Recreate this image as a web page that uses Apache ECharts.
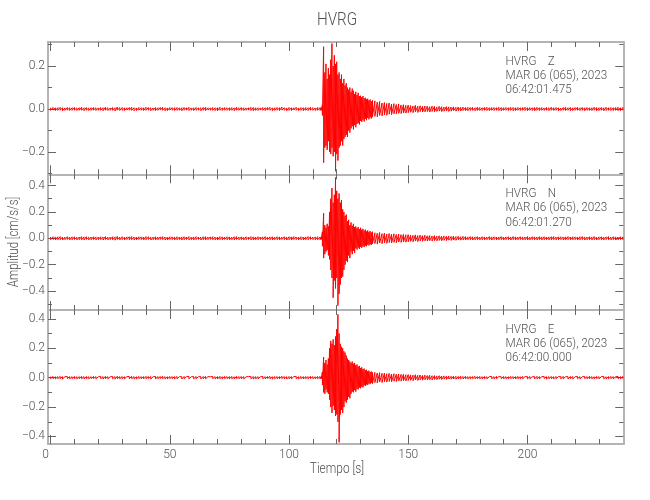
<!DOCTYPE html>
<html><head><meta charset="utf-8">
<script src="https://cdn.jsdelivr.net/npm/echarts@6/dist/echarts.min.js"></script>
<style>html,body{margin:0;padding:0;background:#fff}#c{width:650px;height:500px}</style>
</head><body><div id="c"></div>
<script>
// ===== DATA =====
// Bin times in seconds. Each bin holds the max (Hi) and min (Lo) of the trace in that bin,
// amplitudes given in units of 0.001 cm/s/s.
const tNoise = [0,1,2,3,4,5,6,7,8,9,10,11,12,13,14,15,16,17,18,19,20,21,22,23,24,25,26,27,28,29,
30,31,32,33,34,35,36,37,38,39,40,41,42,43,44,45,46,47,48,49,50,51,52,53,54,55,56,57,58,59,
60,61,62,63,64,65,66,67,68,69,70,71,72,73,74,75,76,77,78,79,80,81,82,83,84,85,86,87,88,89,
90,91,92,93,94,95,96,97,98,99,100,101,102,103,104,105,106,107,108,109,110,111,112];
const tEvent = [113,113.5,114,114.5,115,115.5,116,116.5,117,117.5,118,118.5,119,119.5,120,120.5,121,121.5,122,122.5,
123,123.5,124,124.5,125,125.5,126,126.5,127,127.5,128,128.5,129,129.5,130,130.5,131,131.5,132,132.5,133,133.5,134,134.5,135];
const tCoda = [136,137,138,139,140,141,142,143,144,145,146,147,148,149,150];
const tTail = [151,152,153,154,155,156,157,158,159,160,161,162,163,164,165,166,167,168,169,170,
171,172,173,174,175,176,177,178,179,180,181,182,183,184,185,186,187,188,189,190,
191,192,193,194,195,196,197,198,199,200,201,202,203,204,205,206,207,208,209,210,
211,212,213,214,215,216,217,218,219,220,221,222,223,224,225,226,227,228,229,230,
231,232,233,234,235,236,237,238,239,240];

// --- HVRG Z ---
const zHiNoise = [6,7,5,6,8,6,5,7,6,6, 7,5,6,8,6,7,5,6,7,6, 5,7,6,8,6,5,7,6,9,6, 7,5,6,7,8,6,5,7,6,6,
8,7,6,5,7,6,7,8,6,5, 7,6,6,7,5,6,7,6,8,5, 6,7,5,6,7,8,6,5,7,6, 6,8,5,7,6,6,7,5,8,6,
7,6,5,6,8,7,6,6,5,7, 6,7,8,5,6,7,6,9,6,5, 7,6,6,8,5,7,6,7,6,8, 6,5,7];
const zLoNoise = [-6,-5,-7,-6,-6,-8,-6,-5,-7,-6, -5,-7,-6,-6,-8,-5,-7,-6,-5,-7, -6,-6,-8,-5,-7,-6,-6,-9,-5,-7,
-6,-7,-5,-6,-6,-8,-7,-5,-6,-7, -6,-5,-8,-6,-7,-6,-5,-6,-8,-7, -5,-6,-7,-6,-6,-8,-6,-5,-7,-6,
-7,-6,-5,-8,-6,-7,-5,-6,-6,-7, -8,-6,-7,-5,-6,-7,-6,-8,-5,-6, -6,-7,-6,-5,-7,-8,-6,-7,-5,-6,
-7,-5,-6,-8,-6,-6,-7,-5,-6,-8, -6,-7,-5,-6,-7,-6,-8,-6,-7,-5, -6,-7,-6];
const zHiEvent = [7,6,20,290,170,210,140,190,160,230,305,200,250,210,220,160,170,140,160,120,140,110,120,100,90,100,80,
95,85,70,80,65,75,60,62,55,60,50,52,45,48,40,44,36,40];
const zLoEvent = [-6,-7,-30,-250,-180,-170,-190,-150,-200,-210,-180,-220,-200,-290,-210,-240,-180,-170,-150,-170,-140,-130,-120,-130,-100,-110,-90,
-80,-95,-75,-85,-70,-65,-72,-55,-60,-50,-58,-45,-52,-42,-48,-38,-44,-36];
const zHiCoda = [38,32,35,28,30,26,28,23,25,21,23,19,20,17,18];
const zLoCoda = [-34,-36,-30,-32,-27,-29,-24,-26,-22,-23,-20,-21,-18,-19,-17];
const zHiTail = [16,14,17,13,15,12,14,13,11,13, 12,10,12,11,9,11,10,9,10,8, 9,8,9,7,8,7,8,6,8,7,
6,7,8,6,7,7,6,8,7,6, 7,6,8,7,6,7,6,7,8,6, 7,6,7,8,6,7,5,7,6,8, 6,7,6,5,7,8,6,7,6,7,
8,6,7,6,7,5,6,8,7,6, 7,6,8,6,7,6,7,8,6,7];
const zLoTail = [-15,-17,-13,-16,-12,-14,-13,-12,-14,-11, -13,-11,-10,-12,-10,-9,-11,-10,-8,-10, -8,-9,-7,-8,-8,-7,-6,-8,-7,-7,
-7,-6,-7,-8,-6,-7,-6,-7,-8,-6, -6,-7,-6,-8,-7,-6,-7,-6,-7,-8, -6,-7,-8,-6,-7,-6,-7,-5,-7,-6,
-7,-6,-8,-7,-6,-7,-6,-8,-7,-6, -6,-7,-6,-8,-6,-7,-7,-6,-8,-7, -6,-8,-7,-6,-7,-7,-6,-7,-8,-6];

// --- HVRG N ---
const nHiNoise = [10,12,9,11,13,10,9,12,10,11, 12,9,10,13,11,12,9,10,12,11, 9,12,10,13,10,9,12,11,14,10,
12,9,11,12,13,10,9,12,11,10, 13,12,10,9,12,10,11,13,10,9, 12,11,10,12,9,11,12,10,13,9,
11,12,10,9,12,13,10,11,12,10, 9,13,11,10,12,11,9,12,13,10, 11,10,12,9,13,11,10,12,10,11,
13,9,11,12,10,12,11,9,12,10, 12,11,13,10,9,12,10,11,13,12, 10,11,12];
const nLoNoise = [-10,-9,-12,-10,-11,-13,-10,-9,-12,-11, -9,-12,-10,-11,-13,-9,-12,-10,-9,-12, -11,-10,-13,-9,-12,-10,-11,-14,-9,-12,
-10,-12,-9,-11,-10,-13,-12,-9,-10,-12, -11,-9,-13,-10,-12,-11,-9,-10,-13,-12, -9,-10,-12,-11,-10,-13,-11,-9,-12,-10,
-12,-10,-9,-13,-11,-12,-10,-9,-11,-12, -13,-10,-12,-9,-11,-12,-10,-13,-9,-11, -10,-12,-11,-9,-12,-13,-10,-11,-9,-10,
-12,-9,-11,-13,-10,-11,-12,-9,-10,-13, -11,-12,-9,-10,-12,-11,-13,-10,-11,-9, -10,-12,-11];
const nHiEvent = [10,11,50,190,100,80,110,90,200,300,380,270,330,460,360,300,340,270,290,220,200,170,180,130,140,100,120,
95,110,85,90,75,85,70,80,65,72,58,66,52,60,48,55,44,50];
const nLoEvent = [-10,-9,-60,-150,-120,-100,-90,-130,-160,-240,-300,-450,-320,-380,-300,-510,-420,-350,-300,-290,-240,-200,-170,-180,-130,-150,-100,
-120,-95,-110,-75,-85,-70,-80,-65,-72,-60,-66,-55,-60,-48,-54,-45,-50,-42];
const nHiCoda = [42,38,44,35,40,33,36,31,34,29,32,28,30,27,28];
const nLoCoda = [-40,-44,-36,-41,-34,-38,-32,-35,-30,-33,-28,-31,-27,-29,-26];
const nHiTail = [25,22,26,21,24,20,23,19,21,18, 20,17,19,16,18,15,17,14,16,13, 15,12,14,13,11,13,12,11,13,10,
12,11,10,13,11,12,10,11,13,10, 11,12,10,13,11,10,12,11,10,13, 10,12,11,10,13,11,12,10,11,12,
13,10,11,12,10,11,13,10,12,11, 10,12,13,11,10,12,11,13,10,11, 12,10,11,13,10,12,11,10,12,11];
const nLoTail = [-23,-26,-21,-24,-20,-22,-19,-21,-18,-20, -17,-19,-16,-18,-15,-17,-14,-16,-13,-15, -13,-14,-12,-13,-11,-12,-13,-11,-10,-12,
-11,-12,-10,-11,-13,-10,-12,-11,-10,-12, -10,-11,-13,-10,-12,-11,-10,-12,-11,-13, -12,-10,-11,-13,-10,-12,-11,-10,-12,-11,
-10,-12,-11,-10,-13,-11,-10,-12,-11,-10, -12,-11,-10,-13,-11,-10,-12,-11,-13,-10, -11,-12,-10,-11,-12,-10,-13,-11,-10,-12];

// --- HVRG E ---
const eHiNoise = [7,8,6,7,9,7,6,8,7,7, 8,6,7,9,7,8,6,7,8,7, 6,8,7,9,7,6,8,7,10,7, 8,6,7,8,9,7,6,8,7,7,
9,8,7,6,8,7,8,9,7,6, 8,7,7,8,6,7,8,7,9,6, 7,8,6,7,8,9,7,6,8,7, 7,9,6,8,7,7,8,6,9,7,
8,7,6,7,9,8,7,7,6,8, 7,8,9,6,7,8,7,10,7,6, 8,7,7,9,6,8,7,8,7,9, 7,6,8];
const eLoNoise = [-7,-6,-8,-7,-7,-9,-7,-6,-8,-7, -6,-8,-7,-7,-9,-6,-8,-7,-6,-8, -7,-7,-9,-6,-8,-7,-7,-10,-6,-8,
-7,-8,-6,-7,-7,-9,-8,-6,-7,-8, -7,-6,-9,-7,-8,-7,-6,-7,-9,-8, -6,-7,-8,-7,-7,-9,-7,-6,-8,-7,
-8,-7,-6,-9,-7,-8,-6,-7,-7,-8, -9,-7,-8,-6,-7,-8,-7,-9,-6,-7, -7,-8,-7,-6,-8,-9,-7,-8,-6,-7,
-8,-6,-7,-9,-7,-7,-8,-6,-7,-9, -7,-8,-6,-7,-8,-7,-9,-7,-8,-6, -7,-8,-7];
const eHiEvent = [8,7,40,140,100,120,90,130,200,250,230,260,220,280,330,430,300,230,210,200,180,170,150,130,120,110,100,
110,95,100,85,90,75,80,65,70,58,62,50,54,44,48,38,42,35];
const eLoEvent = [-8,-8,-50,-100,-110,-80,-100,-110,-150,-200,-240,-190,-220,-260,-250,-300,-440,-250,-220,-240,-200,-160,-170,-150,-130,-140,-110,
-95,-100,-85,-95,-75,-80,-68,-72,-60,-66,-52,-56,-46,-50,-40,-44,-36,-40];
const eHiCoda = [36,32,34,29,31,27,29,25,27,23,25,22,23,20,21];
const eLoCoda = [-33,-36,-30,-33,-28,-30,-26,-28,-24,-26,-22,-24,-21,-22,-19];
const eHiTail = [19,17,20,16,18,15,17,14,16,13, 14,12,13,11,12,10,11,9,10,9, 8,10,8,9,7,8,7,9,7,8,
7,8,6,7,8,7,9,7,6,8, 7,6,8,7,7,9,6,8,7,7, 8,6,7,9,7,6,8,7,7,8, 6,8,7,7,9,6,7,8,7,6,
8,7,6,8,7,9,7,6,8,7, 7,8,6,7,8,7,6,8,7,8];
const eLoTail = [-18,-20,-16,-19,-15,-17,-14,-16,-13,-15, -12,-14,-11,-12,-10,-12,-9,-11,-9,-10, -9,-8,-9,-7,-8,-8,-7,-8,-7,-8,
-8,-7,-8,-6,-7,-8,-7,-6,-8,-7, -7,-8,-6,-7,-9,-7,-8,-7,-6,-8, -7,-6,-8,-7,-8,-7,-6,-9,-7,-7,
-8,-7,-6,-8,-7,-7,-9,-6,-8,-7, -7,-8,-7,-6,-8,-7,-7,-8,-6,-8, -6,-7,-8,-7,-6,-8,-7,-7,-8,-7];

// --- texts and ticks ---
const chartTitle = 'HVRG';
const stationLabels = ['HVRG    Z', 'HVRG    N', 'HVRG    E'];
const dateLabel = 'MAR 06 (065), 2023';
const startTimes = ['06:42:01.475', '06:42:01.270', '06:42:00.000'];
const xLabel = 'Tiempo [s]';
const yLabel = 'Amplitud [cm/s/s]';
const xMajorTicks = [0, 50, 100, 150, 200];
const xMinorTicks = [10,20,30,40,60,70,80,90,110,120,130,140,160,170,180,190,210,220,230];
const yMajorTicks = [[-0.2, 0, 0.2], [-0.4, -0.2, 0, 0.2, 0.4], [-0.4, -0.2, 0, 0.2, 0.4]];
const yMinorTicks = [[-0.3, -0.1, 0.1, 0.3], [-0.5, -0.3, -0.1, 0.1, 0.3], [-0.3, -0.1, 0.1, 0.3]];

// ===== LAYOUT =====
const FONT = 'Roboto,"Liberation Sans",sans-serif';
const TXT = '#505050', FRAME = '#b4b4b4', TICK = '#666';
const LEFT = 48, WIDTH = 575.3;
const panels = [
  {top: 42, height: 132.3, ymin: -0.304, ymax: 0.312},
  {top: 174.3, height: 135.7, ymin: -0.543, ymax: 0.485},
  {top: 310, height: 134, ymin: -0.451, ymax: 0.46}
];
const times = tNoise.concat(tEvent, tCoda, tTail);
const traces = [
  [zHiNoise.concat(zHiEvent, zHiCoda, zHiTail), zLoNoise.concat(zLoEvent, zLoCoda, zLoTail)],
  [nHiNoise.concat(nHiEvent, nHiCoda, nHiTail), nLoNoise.concat(nLoEvent, nLoCoda, nLoTail)],
  [eHiNoise.concat(eHiEvent, eHiCoda, eHiTail), eLoNoise.concat(eLoEvent, eLoCoda, eLoTail)]
];
const XMIN = -1.1, XMAX = 240.2;

const fmtY = v => (v < 0 ? '\u2212' : '') + Math.abs(v).toFixed(1);
const fmtX = v => (v === 0 ? '{z|0}' : String(v));

const grid = [], xAxis = [], yAxis = [], series = [], graphic = [];
panels.forEach((p, g) => {
  grid.push({left: LEFT, width: WIDTH, top: p.top, height: p.height, containLabel: false, outerBoundsMode: 'none'});
  [['bottom', true], ['bottom', false], ['top', true], ['top', false]].forEach(([pos, major]) => {
    const showLab = (g === 2 && pos === 'bottom' && major);
    xAxis.push({
      gridIndex: g, type: 'value', min: XMIN, max: XMAX, splitLine: {show: false},
      position: pos,
      axisLine: {show: major, onZero: false, lineStyle: {color: FRAME, width: 2}},
      axisTick: {show: true, inside: true, length: major ? 9 : 5, customValues: major ? xMajorTicks : xMinorTicks,
                 lineStyle: {color: TICK, width: 1}},
      axisLabel: {show: showLab, customValues: xMajorTicks, formatter: fmtX, margin: 5, color: TXT,
                  fontFamily: FONT, fontSize: 12, fontWeight: 300,
                  rich: {z: {padding: [0, 10, 0, 0], color: TXT, fontFamily: FONT, fontSize: 12, fontWeight: 300}}}
    });
  });
  [['left', true], ['left', false], ['right', true], ['right', false]].forEach(([pos, major]) => {
    const showLab = (pos === 'left' && major);
    yAxis.push({
      gridIndex: g, type: 'value', min: p.ymin, max: p.ymax, position: pos, splitLine: {show: false},
      axisLine: {show: major, onZero: false, lineStyle: {color: FRAME, width: 2}},
      axisTick: {show: true, inside: true, length: major ? 8 : 4, customValues: major ? yMajorTicks[g] : yMinorTicks[g],
                 lineStyle: {color: TICK, width: 1}},
      axisLabel: {show: showLab, customValues: yMajorTicks[g], formatter: fmtY, margin: 3, color: TXT, fontFamily: FONT, fontSize: 12, fontWeight: 300}
    });
  });
  const [hi, lo] = traces[g];
  const data = [];
  for (let i = 0; i < times.length; i++) {
    data.push([times[i], hi[i] / 1000]);
    data.push([times[i], lo[i] / 1000]);
  }
  series.push({
    type: 'line', xAxisIndex: g * 4, yAxisIndex: g * 4, data: data,
    symbol: 'none', showSymbol: false, clip: true, animation: false,
    lineStyle: {color: '#ff0000', width: 1}
  });
  const lines = [stationLabels[g], dateLabel, startTimes[g]];
  const offs = [19.5, 33.5, 48];
  lines.forEach((t, k) => graphic.push({
    type: 'text', x: 505.5, y: p.top + offs[k], scaleX: 0.9,
    style: {text: t, fill: TXT, font: '300 13px ' + FONT, align: 'left', verticalAlign: 'middle'}
  }));
});
graphic.push({type: 'text', x: 337, y: 20, scaleX: 0.8,
  style: {text: chartTitle, fill: TXT, font: '300 19px ' + FONT, align: 'center', verticalAlign: 'middle'}});
graphic.push({type: 'text', x: 337, y: 469, scaleX: 0.85,
  style: {text: xLabel, fill: TXT, font: '300 14px ' + FONT, align: 'center', verticalAlign: 'middle'}});
graphic.push({type: 'text', x: 14, y: 242, rotation: Math.PI / 2, scaleX: 0.82,
  style: {text: yLabel, fill: TXT, font: '300 14px ' + FONT, align: 'center', verticalAlign: 'middle'}});

const chart = echarts.init(document.getElementById('c'), null, {renderer: 'canvas'});
chart.setOption({animation: false, backgroundColor: '#fff', grid, xAxis, yAxis, series, graphic});
</script></body></html>
